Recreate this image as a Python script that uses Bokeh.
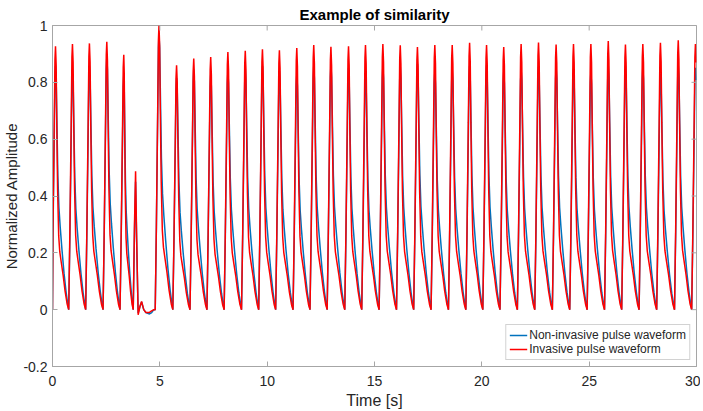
import math
from bokeh.plotting import figure
from bokeh.models import Range1d, FixedTicker, Legend, LegendItem, Title
from bokeh.embed import file_html
from bokeh.resources import INLINE

# ---- data ----
# peak times (s) of the regular beats
peak_times = [0.14, 0.93, 1.72, 2.53, 3.32,
              4.96, 5.78, 6.58, 7.37, 8.17, 8.98, 9.78, 10.57, 11.38, 12.17,
              12.97, 13.79, 14.58, 15.39, 16.20, 17.00, 17.81, 18.62, 19.43,
              20.22, 21.02, 21.83, 22.64, 23.46, 24.27, 25.08, 25.89, 26.69,
              27.50, 28.32, 29.15, 29.95]
invasive_peaks = [0.927, 0.935, 0.937, 0.943, 0.897,
                  1.000, 0.860, 0.884, 0.889, 0.907, 0.911, 0.916, 0.913, 0.921, 0.931,
                  0.925, 0.927, 0.931, 0.935, 0.930, 0.924, 0.931, 0.931, 0.939,
                  0.931, 0.924, 0.935, 0.940, 0.933, 0.935, 0.935, 0.945, 0.933,
                  0.935, 0.939, 0.948, 0.935]
noninvasive_peaks = [0.857, 0.845, 0.859, 0.890, 0.826,
                     0.970, 0.815, 0.845, 0.827, 0.839, 0.848, 0.858, 0.840, 0.829, 0.858,
                     0.862, 0.850, 0.833, 0.858, 0.857, 0.865, 0.839, 0.845, 0.858,
                     0.860, 0.839, 0.848, 0.855, 0.855, 0.848, 0.839, 0.860, 0.859,
                     0.855, 0.831, 0.860, 0.851]

# beat shape relative to the peak (time offsets in s, fraction of peak)
rise_t = [-0.175, -0.12, -0.06, -0.025, 0.0]
rise_v = [0.0, 0.30, 0.70, 0.95, 1.0]
inv_decay_t = [0.0, 0.03, 0.06, 0.10, 0.15, 0.20, 0.27, 0.36, 0.45, 0.55, 0.62]
inv_decay_v = [1.0, 0.93, 0.70, 0.45, 0.28, 0.22, 0.18, 0.13, 0.07, 0.02, 0.0]
non_decay_t = [0.0, 0.03, 0.07, 0.11, 0.16, 0.22, 0.30, 0.40, 0.50, 0.58, 0.62]
non_decay_v = [1.0, 0.95, 0.75, 0.55, 0.42, 0.34, 0.25, 0.15, 0.07, 0.02, 0.0]

# irregular stretch (3.76 s - 4.78 s)
inv_art_t = [3.76, 3.82, 3.87, 3.92, 3.99, 4.07, 4.15, 4.25, 4.35, 4.50, 4.60, 4.72, 4.785]
inv_art_v = [0.0, 0.30, 0.487, 0.25, -0.018, 0.010, 0.029, 0.0, -0.010, -0.010, -0.005, 0.0, 0.0]
non_art_t = [3.76, 3.82, 3.87, 3.92, 3.99, 4.07, 4.15, 4.25, 4.35, 4.52, 4.62, 4.72, 4.785]
non_art_v = [0.0, 0.28, 0.45, 0.24, -0.012, 0.010, 0.027, 0.0, -0.010, -0.015, -0.010, 0.0, 0.0]

x_ticks = [0, 5, 10, 15, 20, 25, 30]
y_ticks = [-0.2, 0, 0.2, 0.4, 0.6, 0.8, 1.0]
y_tick_labels = ["-0.2", "0", "0.2", "0.4", "0.6", "0.8", "1"]


def build(peaks, amps, dec_t, dec_v, art_t, art_v):
    art_start = art_t[0]
    pts = []
    for i, (pk, a) in enumerate(zip(peaks, amps)):
        if i + 1 < len(peaks):
            nxt = peaks[i + 1] + rise_t[0]
        else:
            nxt = pk + dec_t[-1]
        if pk < art_start < nxt:
            nxt = art_start
        scale = (nxt - pk) / dec_t[-1]
        for t, v in zip(rise_t, rise_v):
            pts.append((pk + t, a * v))
        for t, v in zip(dec_t[1:], dec_v[1:]):
            pts.append((pk + t * scale, a * v))
    pts += list(zip(art_t, art_v))
    pts.sort(key=lambda q: q[0])
    xs = [max(0.0, q[0]) for q in pts if q[0] <= 30.0]
    ys = [q[1] for q in pts if q[0] <= 30.0]
    return xs, ys


nx, ny = build(peak_times, noninvasive_peaks, non_decay_t, non_decay_v, non_art_t, non_art_v)
ix, iy = build(peak_times, invasive_peaks, inv_decay_t, inv_decay_v, inv_art_t, inv_art_v)

FONT = "Liberation Sans"
AX = "#a6a6a6"
TXT = "#262626"

p = figure(frame_width=644, frame_height=341, output_backend="svg", toolbar_location=None,
           x_range=Range1d(0, 30), y_range=Range1d(-0.2, 1.0),
           min_border_left=51, min_border_right=4, min_border_top=22, min_border_bottom=38)
p.title = Title(text="Example of similarity", align="center", text_font=FONT,
                text_font_size="15px", text_font_style="bold", text_color="#000000",
                standoff=6, offset=0)
p.xgrid.visible = False
p.ygrid.visible = False
p.outline_line_color = AX
p.background_fill_color = "white"
p.border_fill_color = "white"

r_blue = p.line(nx, ny, line_color="#0072BD", line_width=1.5)
r_red = p.line(ix, iy, line_color="#FF0000", line_width=1.5)

# inward ticks on the mirrored top and right sides of the box (clipped to the frame)
p.scatter(x_ticks, [1.0] * len(x_ticks), marker="dash", angle=math.pi / 2, size=10,
          line_color=AX, line_width=1)
p.scatter([30] * len(y_ticks), y_ticks, marker="dash", size=10, line_color=AX, line_width=1)

for ax in (p.xaxis[0], p.yaxis[0]):
    ax.axis_line_color = AX
    ax.major_tick_line_color = AX
    ax.major_tick_in = 5
    ax.major_tick_out = 0
    ax.minor_tick_line_color = None
    ax.major_label_text_font = FONT
    ax.major_label_text_font_size = "14px"
    ax.major_label_text_color = TXT
    ax.axis_label_text_font = FONT
    ax.axis_label_text_font_size = "16px"
    ax.axis_label_text_font_style = "normal"
    ax.axis_label_text_color = TXT

p.yaxis[0].axis_label_text_font_size = "15px"
p.xaxis[0].ticker = FixedTicker(ticks=x_ticks)
p.yaxis[0].ticker = FixedTicker(ticks=y_ticks)
p.yaxis[0].major_label_overrides = {t: s for t, s in zip(y_ticks, y_tick_labels)}
p.xaxis[0].axis_label = "Time [s]"
p.yaxis[0].axis_label = "Normalized Amplitude"
p.xaxis[0].major_label_standoff = 9
p.xaxis[0].axis_label_standoff = 3
p.yaxis[0].major_label_standoff = 5
p.yaxis[0].axis_label_standoff = 0

legend = Legend(items=[LegendItem(label="Non-invasive pulse waveform", renderers=[r_blue]),
                       LegendItem(label="Invasive pulse waveform", renderers=[r_red])],
                location="bottom_right", margin=6, padding=3, spacing=0,
                label_text_font=FONT, label_text_font_size="12px", label_text_color=TXT,
                label_standoff=2, glyph_width=18, glyph_height=12, label_height=12,
                border_line_color=AX, background_fill_color="white",
                background_fill_alpha=1.0)
p.add_layout(legend, "center")

open("out.html", "w").write(file_html(p, INLINE))
